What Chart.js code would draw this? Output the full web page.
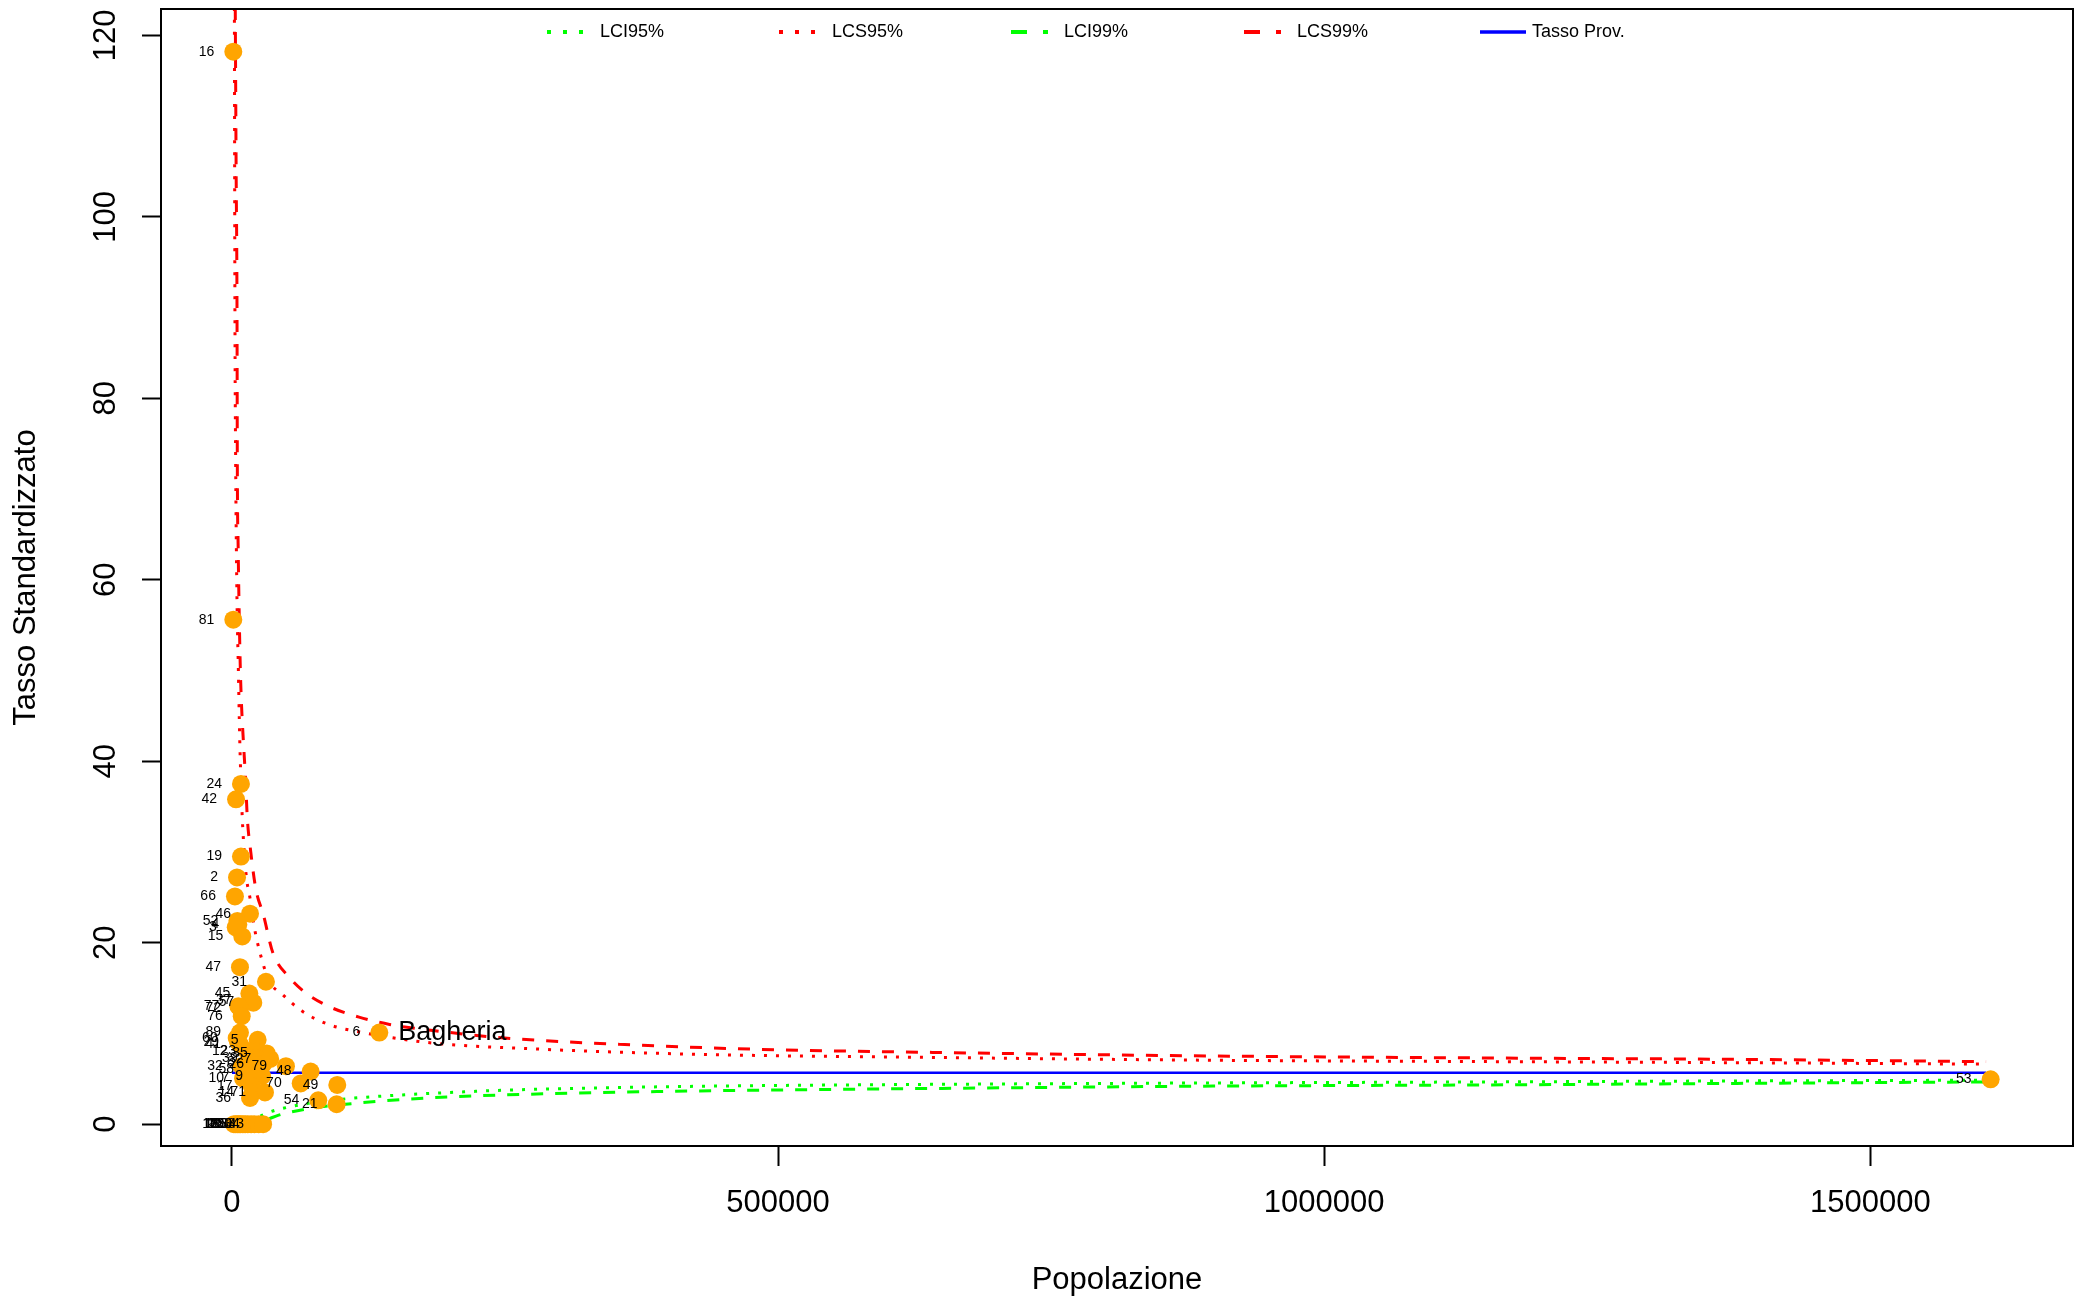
<!DOCTYPE html>
<html><head><meta charset="utf-8">
<script src="https://cdn.jsdelivr.net/npm/chart.js@4.4.1/dist/chart.umd.min.js"></script>
<style>html,body{margin:0;padding:0;background:#fff}canvas{display:block}</style>
</head><body>
<canvas id="c" width="2087" height="1301"></canvas>
<script>
// ---- DATA ----
const comuni = ['16','81','24','42','19','2','66','46','52','4','3','15','47','31','45','57','37','77','72','76',
  '89','60','29','41','5','12','23','35','39','27','26','8','32','79','58','48','9','10','7','17','70','49','14','71','36','54','21','6','53',
  '1','11','13','18','20','22','25','28','30','33','34','43'];
const popolazione = [1200,1200,8200,3700,8200,4600,2700,16500,4900,5800,3400,9400,7300,31100,15900,19500,17000,5800,7300,8900,
  7300,4300,5500,7300,23500,13400,21000,31800,22600,35000,28400,20000,8900,49400,19200,72000,27500,10100,14600,18000,62900,96400,19200,30200,16500,79000,95800,134900,1610200,
  1800,3500,5000,6500,8000,10000,12000,14500,17500,20500,24500,28500];
const tasso = [118.2,55.6,37.5,35.8,29.5,27.2,25.1,23.2,22.4,22.0,21.7,20.7,17.3,15.7,14.4,13.4,13.7,13.0,12.8,11.9,
  10.1,9.5,9.1,8.8,9.3,8.1,8.0,7.8,7.3,7.2,6.6,6.8,6.4,6.4,6.05,5.8,5.3,5.06,5.1,4.2,4.5,4.33,3.5,3.5,2.9,2.64,2.2,10.1,4.95,
  0,0,0,0,0,0,0,0,0,0,0,0];
const evidenziatoCodice = '6';
const evidenziatoNome = 'Bagheria';

const xLCS99 = [3000,3800,4600,4900,5600,6400,7600,8800,10100,12500,14000,17100,21700,28700,37400,53200,67200,88300,116300,144300,200000,249400,354500,480700,650000,898200,1150000,1377700,1606000];
const LCS99  = [123,105,89.5,72.3,64,57.6,50.3,46,42.9,37.8,33.8,30.1,26.0,23.1,18.9,16.1,14.5,13.0,11.8,11.0,10.1,9.5,8.8,8.26,7.9,7.52,7.3,7.15,6.89];
const xLCS95 = [2200,2700,3400,4600,5800,7000,8200,9400,11500,13400,16400,20000,25200,34000,46200,63700,88300,119800,179400,284500,428500,650000,898200,1150000,1377700,1606000];
const LCS95  = [123,89.5,72.3,57.6,50.3,42.9,37.8,33.8,29.5,27.0,25.0,22.0,19.1,15.8,14.3,12.5,11.0,10.1,9.0,8.26,7.7,7.35,7.05,6.9,6.78,6.62];
const xLCI95 = [26000,33000,45000,70000,100000,144300,200000,249400,354500,480700,650000,898200,1150000,1377700,1606000];
const LCI95  = [0.9,1.28,1.7,2.3,2.75,3.15,3.5,3.75,4.05,4.25,4.4,4.55,4.66,4.77,4.85];
const xLCI99 = [34000,42700,70000,109300,179400,284500,389600,480700,650000,898200,1150000,1377700,1606000];
const LCI99  = [0.6,1.0,1.7,2.27,2.9,3.35,3.6,3.75,3.95,4.2,4.33,4.5,4.66];
const xTassoProv = [0,1606000];
const tassoProv  = [5.68,5.68];

const xTicks = [0,500000,1000000,1500000];
const yTicks = [0,20,40,60,80,100,120];
const legendLabels = ['LCI95%','LCS95%','LCI99%','LCS99%','Tasso Prov.'];

// ---- BUILD ----
const FONT = '"Liberation Sans", Arial, Helvetica, sans-serif';
const pair = (xs, ys) => xs.map((x, i) => ({x, y: ys[i]}));
const pts = pair(popolazione, tasso);

function lineDs(label, xs, ys, color, dash, width){
  return {label, data: pair(xs, ys), showLine: true, borderColor: color, borderWidth: width,
    borderDash: dash, pointRadius: 0, pointHoverRadius: 0, fill: false,
    cubicInterpolationMode: 'monotone', order: 1};
}

const datasets = [
  {label: 'Comuni', data: pts, backgroundColor: '#FFA500', borderWidth: 0, pointRadius: 9, pointHoverRadius: 9, order: 0},
  lineDs(legendLabels[0], xLCI95, LCI95, '#00FF00', [3, 9], 3),
  lineDs(legendLabels[1], xLCS95, LCS95, '#FF0000', [3, 9], 3),
  lineDs(legendLabels[2], xLCI99, LCI99, '#00FF00', [12, 12], 3),
  lineDs(legendLabels[3], xLCS99, LCS99, '#FF0000', [12, 12], 3),
  lineDs(legendLabels[4], xTassoProv, tassoProv, '#0000FF', [], 2.5)
];

const boxPlugin = {
  id: 'box',
  afterDraw(chart){
    const {ctx, chartArea: a} = chart;
    ctx.save();
    ctx.strokeStyle = '#000'; ctx.lineWidth = 2;
    ctx.strokeRect(a.left, a.top, a.right - a.left, a.bottom - a.top);
    ctx.restore();
  }
};

const labelPlugin = {
  id: 'pointLabels',
  afterDatasetsDraw(chart){
    const ctx = chart.ctx;
    const meta = chart.getDatasetMeta(0);
    ctx.save();
    ctx.fillStyle = '#000';
    ctx.textBaseline = 'middle';
    meta.data.forEach((el, i) => {
      ctx.font = '14px ' + FONT;
      ctx.textAlign = 'right';
      ctx.fillText(comuni[i], el.x - 19, el.y);
      if (comuni[i] === evidenziatoCodice) {
        ctx.font = '27px ' + FONT;
        ctx.textAlign = 'left';
        ctx.fillText(evidenziatoNome, el.x + 19, el.y);
      }
    });
    ctx.restore();
  }
};

const legendPlugin = {
  id: 'customLegend',
  afterDraw(chart){
    const ctx = chart.ctx;
    const starts = [547, 779, 1011, 1244, 1480];
    const y = 32;
    ctx.save();
    legendLabels.forEach((txt, i) => {
      const ds = chart.data.datasets[i + 1];
      const isBlue = i === 4;
      const len = isBlue ? 46 : 37;
      ctx.beginPath();
      ctx.strokeStyle = ds.borderColor;
      ctx.lineWidth = isBlue ? 3.5 : 4;
      const d = ds.borderDash.length ? ds.borderDash.map(v => v * 4 / 3) : [];
      ctx.setLineDash(d);
      ctx.moveTo(starts[i], y);
      ctx.lineTo(starts[i] + len, y);
      ctx.stroke();
      ctx.setLineDash([]);
      ctx.fillStyle = '#000';
      ctx.font = '18px ' + FONT;
      ctx.textAlign = 'left';
      ctx.textBaseline = 'middle';
      ctx.fillText(txt, isBlue ? 1532 : starts[i] + 53, y);
    });
    ctx.restore();
  }
};

const zeroPad = s => { s.paddingTop = 0; s.paddingBottom = 0; s.paddingLeft = 0; s.paddingRight = 0; };

new Chart(document.getElementById('c'), {
  type: 'scatter',
  data: {datasets},
  options: {
    responsive: false, animation: false, devicePixelRatio: 1,
    layout: {padding: {top: 7, right: 14, left: 0, bottom: 0}},
    plugins: {legend: {display: false}, tooltip: {enabled: false}},
    scales: {
      x: {
        type: 'linear', min: -65000, max: 1685600,
        afterBuildTicks: s => { s.ticks = xTicks.map(v => ({value: v})); },
        afterFit: s => { s.height = 155; zeroPad(s); },
        grid: {drawOnChartArea: false, drawTicks: true, tickLength: 20, tickWidth: 2, tickColor: '#000'},
        border: {display: false},
        ticks: {color: '#000', font: {family: FONT, size: 31}, padding: 19, maxRotation: 0, minRotation: 0, autoSkip: false, callback: v => String(v)},
        title: {display: true, text: 'Popolazione', color: '#000', font: {family: FONT, size: 31}, padding: {top: 0, bottom: 2}}
      },
      y: {
        type: 'linear', min: -2.4, max: 122.9,
        afterBuildTicks: s => { s.ticks = yTicks.map(v => ({value: v})); },
        afterFit: s => { s.width = 161; zeroPad(s); },
        grid: {drawOnChartArea: false, drawTicks: true, tickLength: 19, tickWidth: 2, tickColor: '#000'},
        border: {display: false},
        ticks: {color: '#000', font: {family: FONT, size: 31}, padding: 10, minRotation: 90, maxRotation: 90, crossAlign: 'center', autoSkip: false, callback: v => String(v)},
        title: {display: true, text: 'Tasso Standardizzato', color: '#000', font: {family: FONT, size: 31}, padding: {top: 8, bottom: 0}}
      }
    }
  },
  plugins: [boxPlugin, labelPlugin, legendPlugin]
});
</script>
</body></html>
